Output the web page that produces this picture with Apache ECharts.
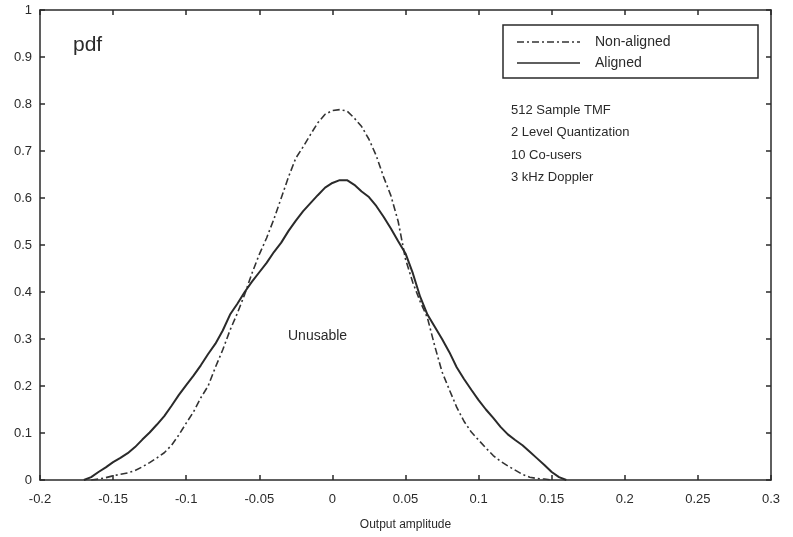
<!DOCTYPE html>
<html>
<head>
<meta charset="utf-8">
<script src="https://cdn.jsdelivr.net/npm/echarts@6/dist/echarts.min.js"></script>
<style>
html,body{margin:0;padding:0;background:#fff;}
#chart{width:793px;height:537px;}
</style>
</head>
<body>
<div id="chart"></div>
<script>
// ---- data ----
var xTicks = [-0.2, -0.15, -0.1, -0.05, 0, 0.05, 0.1, 0.15, 0.2, 0.25, 0.3];
var yTicks = [0, 0.1, 0.2, 0.3, 0.4, 0.5, 0.6, 0.7, 0.8, 0.9, 1];

var alignedX = [-0.170,-0.165,-0.160,-0.155,-0.150,-0.145,-0.140,-0.135,-0.130,-0.125,-0.120,-0.115,-0.110,-0.105,-0.100,-0.095,-0.090,-0.085,-0.080,-0.075,-0.070,-0.065,-0.060,-0.055,-0.050,-0.045,-0.040,-0.035,-0.030,-0.025,-0.020,-0.015,-0.010,-0.005,0.000,0.005,0.010,0.015,0.020,0.025,0.030,0.035,0.040,0.045,0.050,0.055,0.060,0.065,0.070,0.075,0.080,0.085,0.090,0.095,0.100,0.105,0.110,0.115,0.120,0.125,0.130,0.135,0.140,0.145,0.150,0.155,0.160];
var alignedY = [0,0.006,0.017,0.027,0.038,0.047,0.057,0.070,0.086,0.101,0.118,0.136,0.158,0.181,0.202,0.222,0.244,0.268,0.290,0.318,0.352,0.375,0.400,0.422,0.442,0.462,0.485,0.505,0.530,0.552,0.572,0.589,0.606,0.622,0.632,0.638,0.638,0.628,0.614,0.602,0.583,0.560,0.535,0.508,0.482,0.440,0.390,0.352,0.326,0.300,0.272,0.240,0.215,0.192,0.170,0.150,0.132,0.113,0.097,0.085,0.074,0.060,0.046,0.032,0.017,0.006,0];

var nonAlignedX = [-0.165,-0.160,-0.155,-0.150,-0.145,-0.140,-0.135,-0.130,-0.125,-0.120,-0.115,-0.110,-0.105,-0.100,-0.095,-0.090,-0.085,-0.080,-0.075,-0.070,-0.065,-0.060,-0.055,-0.050,-0.045,-0.040,-0.035,-0.030,-0.025,-0.020,-0.015,-0.010,-0.005,0.000,0.005,0.010,0.015,0.020,0.025,0.030,0.035,0.040,0.045,0.050,0.055,0.060,0.065,0.070,0.075,0.080,0.085,0.090,0.095,0.100,0.105,0.110,0.115,0.120,0.125,0.130,0.135,0.140,0.145,0.150];
var nonAlignedY = [0,0.002,0.005,0.009,0.012,0.015,0.020,0.028,0.037,0.047,0.058,0.074,0.096,0.121,0.145,0.175,0.200,0.240,0.277,0.319,0.355,0.395,0.440,0.480,0.515,0.555,0.600,0.645,0.685,0.709,0.735,0.760,0.778,0.786,0.788,0.785,0.770,0.752,0.725,0.690,0.645,0.605,0.550,0.470,0.420,0.380,0.345,0.285,0.230,0.192,0.155,0.125,0.102,0.085,0.068,0.052,0.040,0.030,0.021,0.012,0.006,0.003,0.002,0];

var legendNames = ['Non-aligned', 'Aligned'];
var noteLines = ['512 Sample TMF', '2 Level Quantization', '10 Co-users', '3 kHz Doppler'];

function pairs(xs, ys){ return xs.map(function(x,i){ return [x, ys[i]]; }); }

var FONT = 'Liberation Sans, Arial, sans-serif';
var INK = '#2a2a2a';
var DASHDOT = [7, 3, 2, 3];

var chart = echarts.init(document.getElementById('chart'), null, {renderer:'canvas'});

function axisCommon(){
  return {
    axisLine: {show: true, onZero: false, lineStyle: {color: INK, width: 1.5}},
    axisTick: {show: true, inside: true, length: 5, lineStyle: {color: INK, width: 1.5}},
    splitLine: {show: false}
  };
}
function fmt(ticks){
  return function(v){ var i = ticks.findIndex(function(t){return Math.abs(t-v)<1e-9;}); return i>=0 ? String(ticks[i]) : ''; };
}

var option = {
  animation: false,
  backgroundColor: '#fff',
  grid: [{left: 40, right: 22, top: 10, bottom: 57, containLabel: false}],
  xAxis: [
    Object.assign({
      type: 'value', position: 'bottom',
      min: xTicks[0], max: xTicks[xTicks.length-1], interval: 0.05,
      name: 'Output amplitude', nameLocation: 'middle', nameGap: 39,
      nameTextStyle: {fontFamily: FONT, fontSize: 12, color: INK},
      axisLabel: {fontFamily: FONT, fontSize: 13, color: INK, margin: 13, formatter: fmt(xTicks)}
    }, axisCommon()),
    Object.assign({
      type: 'value', position: 'top',
      min: xTicks[0], max: xTicks[xTicks.length-1], interval: 0.05,
      axisLabel: {show: false}
    }, axisCommon())
  ],
  yAxis: [
    Object.assign({
      type: 'value', position: 'left',
      min: yTicks[0], max: yTicks[yTicks.length-1], interval: 0.1,
      axisLabel: {fontFamily: FONT, fontSize: 13, color: INK, margin: 8, formatter: fmt(yTicks)}
    }, axisCommon()),
    Object.assign({
      type: 'value', position: 'right',
      min: yTicks[0], max: yTicks[yTicks.length-1], interval: 0.1,
      axisLabel: {show: false}
    }, axisCommon())
  ],
  series: [
    {
      name: legendNames[0], type: 'line', xAxisIndex: 0, yAxisIndex: 0,
      data: pairs(nonAlignedX, nonAlignedY),
      symbol: 'none', smooth: false,
      lineStyle: {color: '#333', width: 1.6, type: DASHDOT}
    },
    {
      name: legendNames[1], type: 'line', xAxisIndex: 0, yAxisIndex: 0,
      data: pairs(alignedX, alignedY),
      symbol: 'none', smooth: false,
      lineStyle: {color: INK, width: 2}
    }
  ],
  graphic: [
    {type: 'rect', shape: {x: 503, y: 25, width: 255, height: 53},
     style: {fill: 'none', stroke: INK, lineWidth: 1.5}, z: 10},
    {type: 'line', shape: {x1: 517, y1: 42, x2: 580, y2: 42},
     style: {stroke: '#333', lineWidth: 1.4, lineDash: DASHDOT}, z: 10},
    {type: 'line', shape: {x1: 517, y1: 63, x2: 580, y2: 63},
     style: {stroke: INK, lineWidth: 1.4}, z: 10},
    {type: 'text', left: 595, top: 35, style: {text: legendNames[0], font: '14px ' + FONT, fill: INK}, z: 10},
    {type: 'text', left: 595, top: 56, style: {text: legendNames[1], font: '14px ' + FONT, fill: INK}, z: 10},
    {type: 'text', left: 73, top: 35, style: {text: 'pdf', font: '21px ' + FONT, fill: INK}},
    {type: 'text', left: 288, top: 329, style: {text: 'Unusable', font: '14px ' + FONT, fill: INK}},
    {type: 'text', left: 511, top: 99, style: {text: noteLines.join('\n'), font: '13px ' + FONT, lineHeight: 22.5, fill: INK}}
  ]
};
chart.setOption(option);
</script>
</body>
</html>
